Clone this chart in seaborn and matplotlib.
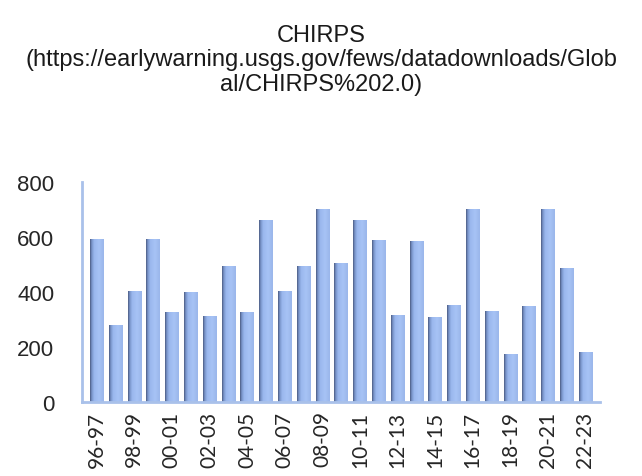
import numpy as np
import pandas as pd
import seaborn as sns
import matplotlib.pyplot as plt
from matplotlib.colors import LinearSegmentedColormap

seasons = ["96-97", "97-98", "98-99", "99-00", "00-01", "01-02", "02-03", "03-04",
           "04-05", "05-06", "06-07", "07-08", "08-09", "09-10", "10-11", "11-12",
           "12-13", "13-14", "14-15", "15-16", "16-17", "17-18", "18-19", "19-20",
           "20-21", "21-22", "22-23"]
rainfall = [595, 282, 405, 595, 326, 400, 312, 495, 328, 663, 405, 495, 702, 507,
            662, 589, 315, 587, 311, 354, 702, 331, 176, 350, 704, 489, 181]

df = pd.DataFrame({"season": seasons, "rainfall": rainfall})

sns.set_style("white")
plt.rcParams["font.family"] = ["Liberation Sans", "DejaVu Sans"]

fig = plt.figure(figsize=(6.42, 4.77), dpi=100)
ax = fig.add_axes([0.1277, 0.155, 0.807, 0.461])

sns.barplot(data=df, x="season", y="rainfall", color="#95b3e8", width=0.71,
            saturation=1, ax=ax)

# cylinder-like shading, like the Excel bars
cmap = LinearSegmentedColormap.from_list(
    "cyl", [(0, "#4b5c82"), (0.12, "#7893c8"), (0.3, "#9ab7ee"),
            (0.65, "#a7c3f5"), (1.0, "#9ab6eb")])
grad = np.linspace(0, 1, 64).reshape(1, -1)
for p in ax.patches:
    x0, y0 = p.get_x(), p.get_y()
    w, h = p.get_width(), p.get_height()
    im = ax.imshow(grad, cmap=cmap, aspect="auto", extent=(x0, x0 + w, y0, y0 + h),
                   zorder=p.get_zorder() + 0.1)
    im.set_clip_path(p)
    p.set_edgecolor("none")

ax.set_xlim(-0.78, 26.78)
ax.set_ylim(0, 800)
ax.set_yticks([0, 200, 400, 600, 800])
ax.set_xticks(range(0, len(seasons), 2))
ax.set_xticklabels(seasons[::2], rotation=90, fontsize=15, family=["Lato", "DejaVu Sans"],
                   color="#262626")
ax.tick_params(axis="y", labelsize=16, labelcolor="#262626", length=0, pad=20)
ax.tick_params(axis="x", length=0, pad=6)
ax.set_xlabel("")
ax.set_ylabel("")

for side in ["top", "right"]:
    ax.spines[side].set_visible(False)
for side in ["left", "bottom"]:
    ax.spines[side].set_color("#a9c1ea")
    ax.spines[side].set_linewidth(2)

fig.text(0.5, 0.948,
         "CHIRPS\n(https://earlywarning.usgs.gov/fews/datadownloads/Glob\nal/CHIRPS%202.0)",
         ha="center", va="top", fontsize=17, color="#1a1a1a", linespacing=1.15)

fig.savefig("out.png", dpi=100)
